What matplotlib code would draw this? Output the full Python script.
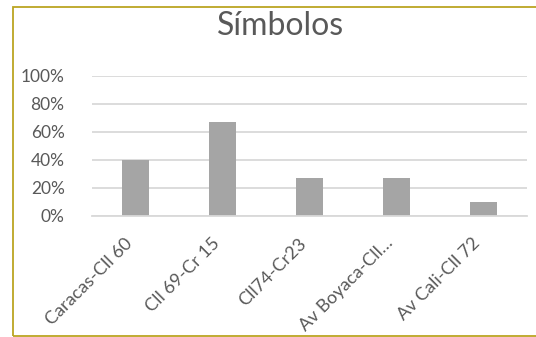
import matplotlib
matplotlib.use("Agg")
import matplotlib.pyplot as plt
from matplotlib.patches import Rectangle
from matplotlib.ticker import FixedLocator

categories = ["Caracas-Cll 60", "Cll 69-Cr 15", "Cll74-Cr23", "Av Boyaca-Cll…", "Av Cali-Cll 72"]
values = [0.40, 0.667, 0.27, 0.267, 0.10]
y_ticks = [0.0, 0.2, 0.4, 0.6, 0.8, 1.0]
y_tick_labels = ["0%", "20%", "40%", "60%", "80%", "100%"]
title = "Símbolos"

W, H = 536, 337
DPI = 100
text_color = "#595959"
bar_color = "#A5A5A5"
grid_color = "#D9D9D9"
border_color = "#BBA522"

plt.rcParams["font.family"] = ["Lato", "DejaVu Sans"]

fig = plt.figure(figsize=(W / DPI, H / DPI), dpi=DPI)
fig.patch.set_facecolor("white")

# chart-area border (right side runs off the canvas)
fig.patches.append(Rectangle((12.5 / W, 1 - 336 / H), 600 / W, (336 - 6.5) / H,
                             transform=fig.transFigure, fill=False,
                             edgecolor=border_color, linewidth=1.3))

left, right, top, bottom = 92.4, 526.6, 75.7, 215.7
ax = fig.add_axes([left / W, 1 - bottom / H, (right - left) / W, (bottom - top) / H])
ax.set_facecolor("none")

x = list(range(len(categories)))
ax.bar(x, values, width=0.31, color=bar_color, zorder=3)

ax.set_xlim(-0.5, len(categories) - 0.5)
ax.set_ylim(0, 1)
ax.yaxis.set_major_locator(FixedLocator(y_ticks))
ax.set_yticklabels(y_tick_labels)
ax.set_xticks(x)
ax.set_xticklabels(categories, rotation=45, ha="right", rotation_mode="default",
                   fontsize=13)

ax.grid(axis="y", color=grid_color, linewidth=1.3, zorder=0)
for s in ["top", "right", "left"]:
    ax.spines[s].set_visible(False)
ax.spines["bottom"].set_color(grid_color)
ax.spines["bottom"].set_linewidth(1.3)
ax.spines["bottom"].set_zorder(4)

ax.tick_params(axis="both", length=0, colors=text_color)
ax.tick_params(axis="y", pad=20, labelsize=12.5)
ax.tick_params(axis="x", pad=14)

fig.text(280.5 / W, 1 - 26 / H, title, ha="center", va="center",
         fontsize=23, color=text_color)

fig.savefig("out.png", dpi=DPI, facecolor="white")
